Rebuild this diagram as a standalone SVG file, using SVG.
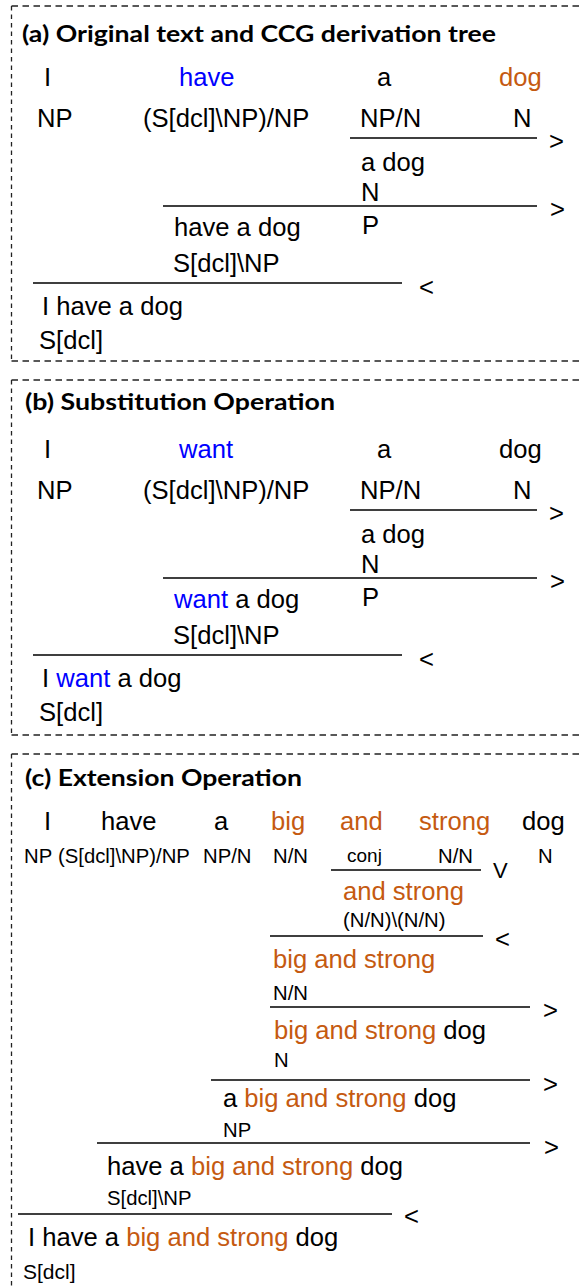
<svg xmlns="http://www.w3.org/2000/svg" width="580" height="1286" viewBox="0 0 580 1286">
<style>
text{font-family:"Liberation Sans",Arial,sans-serif;font-size:25.6px;fill:#000}
.t{font-family:Lato,"Open Sans",sans-serif;font-weight:bold;font-size:22px}
.s{font-size:20.3px}
.b{fill:#0000ff}
.o{fill:#c55a11}
.r{stroke:#000;stroke-width:1.5;fill:none}
.dh{stroke:#222;stroke-width:1.3;stroke-dasharray:6.5 4.5;fill:none}
.dv{stroke:#222;stroke-width:1.3;stroke-dasharray:4.5 4;fill:none}
</style>
<g id="frames">
<path class="dh" d="M11.5 6H580M11.5 361H580"/>
<path class="dv" d="M11.5 6V361"/>
<path class="dh" d="M11.5 380H580M11.5 735H580"/>
<path class="dv" d="M11.5 380V735"/>
<path class="dh" d="M11.5 754H580"/>
<path class="dv" d="M11.5 754V1286"/>
</g>
<g id="panel-a">
<text class="t" x="22" y="42" textLength="474" lengthAdjust="spacingAndGlyphs">(a) Original text and CCG derivation tree</text>
<g id="a-words">
<text x="44" y="86">I</text>
<text x="179" y="86" class="b">have</text>
<text x="377" y="86">a</text>
<text x="499" y="86" class="o">dog</text>
</g>
<g id="a-cats">
<text x="37" y="127">NP</text>
<text x="143" y="127">(S[dcl]\NP)/NP</text>
<text x="360" y="127">NP/N</text>
<text x="513" y="127">N</text>
</g>
<g id="a-adog"><text x="361" y="171">a dog</text><text x="361" y="201">N</text></g>
<g id="a-haveadog"><text x="174" y="236">have a dog</text><text x="362" y="234">P</text><text x="173" y="272">S[dcl]\NP</text></g>
<g id="a-ihaveadog"><text x="42" y="315">I have a dog</text><text x="39" y="349">S[dcl]</text></g>
</g>
<g id="panel-b">
<text class="t" x="25" y="410" textLength="310" lengthAdjust="spacingAndGlyphs">(b) Substitution Operation</text>
<g id="b-words">
<text x="44" y="458">I</text>
<text x="179" y="458" class="b">want</text>
<text x="377" y="458">a</text>
<text x="499" y="458">dog</text>
</g>
<g id="b-cats">
<text x="37" y="499">NP</text>
<text x="143" y="499">(S[dcl]\NP)/NP</text>
<text x="360" y="499">NP/N</text>
<text x="513" y="499">N</text>
</g>
<g id="b-adog"><text x="361" y="543">a dog</text><text x="361" y="573">N</text></g>
<g id="b-wantadog"><text x="174" y="608"><tspan class="b">want</tspan> a dog</text><text x="362" y="606">P</text><text x="173" y="644">S[dcl]\NP</text></g>
<g id="b-iwantadog"><text x="42" y="687">I <tspan class="b">want</tspan> a dog</text><text x="39" y="721">S[dcl]</text></g>
</g>
<g id="panel-c">
<text class="t" x="25" y="786" textLength="277" lengthAdjust="spacingAndGlyphs">(c) Extension Operation</text>
<g id="c-words">
<text x="44" y="830">I</text>
<text x="101" y="830">have</text>
<text x="214" y="830">a</text>
<text x="271" y="830" class="o">big</text>
<text x="340" y="830" class="o">and</text>
<text x="419" y="830" class="o">strong</text>
<text x="522" y="830">dog</text>
</g>
<g id="c-cats">
<text class="s" x="24" y="863">NP</text>
<text class="s" x="58" y="863">(S[dcl]\NP)/NP</text>
<text class="s" x="203" y="863">NP/N</text>
<text class="s" x="273" y="863">N/N</text>
<text class="s" x="347" y="862" style="font-size:19px">conj</text>
<text class="s" x="438" y="863">N/N</text>
<text class="s" x="538" y="863">N</text>
</g>
<g id="c-andstrong"><text x="343" y="900" class="o">and strong</text><text class="s" x="343" y="927">(N/N)\(N/N)</text></g>
<g id="c-bigandstrong"><text x="273" y="968" class="o">big and strong</text><text class="s" x="273" y="1000">N/N</text></g>
<g id="c-bigandstrongdog"><text x="274" y="1039"><tspan class="o">big and strong</tspan> dog</text><text class="s" x="274" y="1067">N</text></g>
<g id="c-abigdog"><text x="223" y="1107">a <tspan class="o">big and strong</tspan> dog</text><text class="s" x="223" y="1137">NP</text></g>
<g id="c-havedog"><text x="107" y="1175">have a <tspan class="o">big and strong</tspan> dog</text><text class="s" x="107" y="1205">S[dcl]\NP</text></g>
<g id="c-ihavedog"><text x="28" y="1246">I have a <tspan class="o">big and strong</tspan> dog</text><text x="23" y="1279" style="font-size:21px">S[dcl]</text></g>
</g>
<g id="connectors">
<path class="r" d="M350 138H537M163 206H537M33 283H402"/>
<path class="r" d="M350 510H537M163 578H537M33 655H402"/>
<path class="r" d="M331 870H481M270 936H483M270 1007H530M211 1080H530M97 1143H530M18 1214H392"/>
<text x="549" y="150">&gt;</text>
<text x="550" y="218">&gt;</text>
<text x="419" y="296">&lt;</text>
<text x="549" y="522">&gt;</text>
<text x="550" y="590">&gt;</text>
<text x="419" y="668">&lt;</text>
<text x="493" y="878" style="font-size:22px">V</text>
<text x="495" y="948">&lt;</text>
<text x="543" y="1019">&gt;</text>
<text x="543" y="1093">&gt;</text>
<text x="544" y="1156">&gt;</text>
<text x="404" y="1225">&lt;</text>
</g>
</svg>
